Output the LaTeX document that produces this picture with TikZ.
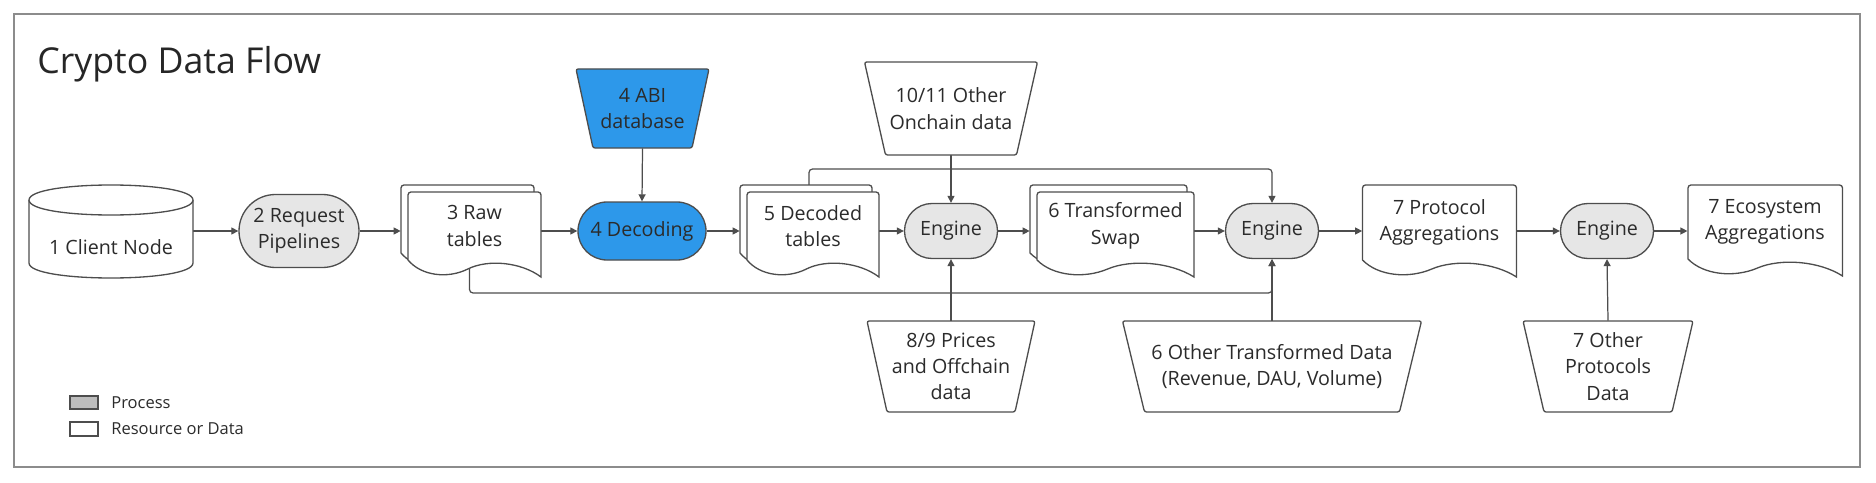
\documentclass[tikz,border=0pt]{standalone}
\usepackage{fontspec}
\setmainfont{Open Sans}
\usepackage{tikz}
\usetikzlibrary{arrows.meta,calc,shapes.misc,backgrounds}

\definecolor{linegray}{HTML}{4D4D4D}
\definecolor{procgray}{HTML}{E6E6E6}
\definecolor{legendgray}{HTML}{BDBDBD}
\definecolor{abiblue}{HTML}{2D98EA}
\definecolor{framegray}{HTML}{8C8C8C}
\definecolor{textgray}{HTML}{2B2B2B}

\newcommand{\pxu}{0.02cm}
\newcommand{\nodefnt}{\fontsize{11.2}{15}\selectfont}
\newcommand{\titlefnt}{\fontsize{20.3}{24}\selectfont}
\newcommand{\legendfnt}{\fontsize{9.4}{12}\selectfont}

% document outline: left, top, width, height of the left edge
\newcommand{\docshape}[4]{%
  \draw[shapeline, fill=white] (#1,#2+#4) [rounded corners=1.7pt] -- (#1,#2) -- (#1+#3,#2) [sharp corners] -- (#1+#3,#2+#4+17)
    .. controls (#1+0.85*#3,#2+#4+2) and (#1+0.6*#3,#2+#4-1) .. (#1+0.45*#3,#2+#4+9)
    .. controls (#1+0.3*#3,#2+#4+19) and (#1+0.1*#3,#2+#4+16) .. (#1,#2+#4) -- cycle;}
% data input: name, centre x, top, top width, bottom width, height, fill, text
\newcommand{\datanode}[8]{%
  \draw[shapeline, fill=#7, rounded corners=1.2pt] (#2-#4/2,#3) -- (#2+#4/2,#3) -- (#2+#5/2,#3+#6) -- (#2-#5/2,#3+#6) -- cycle;
  \node[txt, minimum width=#5*\pxu, minimum height=#6*\pxu] (#1) at (#2,#3+#6/2) {#8};}

\begin{document}
\begin{tikzpicture}[x=0.02cm, y=-0.02cm,
    shapeline/.style={draw=linegray, line width=0.75pt},
    txt/.style={font=\nodefnt, text=textgray, align=center, inner sep=0pt},
    proc/.style={rounded rectangle, shapeline, fill=procgray, txt},
    arr/.style={draw=linegray, line width=0.7pt, -{Triangle[length=4pt,width=4pt]}}]
    \useasboundingbox (0,0) rectangle (1876,483);
    \draw[framegray, line width=1.1pt] (14,14) rectangle (1860,467);
    \node[anchor=base west, font=\titlefnt, text=black!85, inner sep=0pt] (title) at (37,74) {Crypto Data Flow};

    % client node
    \draw[shapeline, fill=white] (29,200) -- (29,263) .. controls (29,283) and (193,283) .. (193,263) -- (193,200);
    \draw[shapeline, fill=white] (29,200) .. controls (29,180) and (193,180) .. (193,200) .. controls (193,220) and (29,220) .. (29,200) -- cycle;
    \node[txt, minimum width=164*\pxu, minimum height=62*\pxu] (client) at (111,247) {1 Client Node};

    \node[proc, minimum width=120*\pxu, minimum height=73*\pxu] (req) at (299,231) {2 Request\\Pipelines};

    \docshape{401}{185}{133}{68}
    \docshape{408}{192}{133}{68}
    \node[txt, minimum width=133*\pxu, minimum height=68*\pxu] (raw) at (474.5,226) {3 Raw\\tables};

    \datanode{abi}{642.5}{69}{133}{99}{79}{abiblue}{4 ABI\\database}
    \node[proc, fill=abiblue, minimum width=128*\pxu, minimum height=58*\pxu] (decoding) at (642,231) {4 Decoding};

    \docshape{740}{185}{132}{68}
    \docshape{747}{192}{132}{68}
    \node[txt, minimum width=132*\pxu, minimum height=68*\pxu] (decoded) at (813,226) {5 Decoded\\tables};

    \node[proc, minimum width=93*\pxu, minimum height=55*\pxu] (eng1) at (951,231) {Engine};
    \datanode{onchain}{951}{62}{173}{131}{93}{white}{10/11 Other\\Onchain data}
    \datanode{prices}{951}{321}{168}{128}{91}{white}{8/9 Prices\\and Offchain\\data}

    \docshape{1030}{185}{157}{68}
    \docshape{1037}{192}{157}{68}
    \node[txt, minimum width=157*\pxu, minimum height=68*\pxu] (swap) at (1115.5,226) {6 Transformed\\Swap};

    \node[proc, minimum width=93*\pxu, minimum height=55*\pxu] (eng2) at (1272,231) {Engine};
    \datanode{othertr}{1272}{321}{299}{255}{91}{white}{6 Other Transformed Data\\(Revenue, DAU, Volume)}

    \docshape{1362.5}{185}{154}{75}
    \node[txt, minimum width=154*\pxu, minimum height=75*\pxu] (prot) at (1439.5,222.5) {7 Protocol\\Aggregations};

    \node[proc, minimum width=93*\pxu, minimum height=55*\pxu] (eng3) at (1607,231) {Engine};
    \datanode{otherprot}{1608}{321}{170}{128}{91}{white}{7 Other\\Protocols\\Data}

    \docshape{1688}{185}{154.5}{74}
    \node[txt, minimum width=154.5*\pxu, minimum height=74*\pxu] (eco) at (1765,222) {7 Ecosystem\\Aggregations};

    % legend
    \draw[linegray, line width=0.6pt, fill=legendgray] (70,396) rectangle (98,409);
    \draw[linegray, line width=0.6pt, fill=white] (70,422) rectangle (98,436);
    \node[anchor=west, font=\legendfnt, text=textgray, inner sep=0pt] (lgproc) at (111,402.5) {Process};
    \node[anchor=west, font=\legendfnt, text=textgray, inner sep=0pt] (lgdata) at (111,429) {Resource or Data};

    \coordinate (high) at (0,169);
    \coordinate (low) at (0,293);
    \begin{scope}[on background layer]
        \draw[arr] (client.east |- req.west) -- (req.west);
        \draw[arr] (req.east) -- ($(req.east -| raw.west)+(-7,0)$);
        \draw[arr] (raw.east |- decoding.west) -- (decoding.west);
        \draw[arr] (abi.south) -- (decoding.north);
        \draw[arr] (decoding.east) -- ($(decoding.east -| decoded.west)+(-7,0)$);
        \draw[arr] (decoded.east |- eng1.west) -- (eng1.west);
        \draw[arr] (onchain.south) -- (eng1.north);
        \draw[arr] (prices.north) -- (eng1.south);
        \draw[arr] (eng1.east) -- ($(eng1.east -| swap.west)+(-7,0)$);
        \draw[arr] (swap.east |- eng2.west) -- (eng2.west);
        \draw[arr] (othertr.north) -- (eng2.south);
        \draw[arr, rounded corners=2pt] ($(raw.south)+(-5,0)$) |- (low -| eng2.south) -- (eng2.south);
        \draw[arr, rounded corners=2pt] ($(decoded.north)+(-4,0)$) |- (high -| eng2.north) -- (eng2.north);
        \draw[arr] (eng2.east) -- (eng2.east -| prot.west);
        \draw[arr] (prot.east |- eng3.west) -- (eng3.west);
        \draw[arr] (otherprot.north) -- (eng3.south);
        \draw[arr] (eng3.east) -- (eng3.east -| eco.west);
    \end{scope}
\end{tikzpicture}
\end{document}
